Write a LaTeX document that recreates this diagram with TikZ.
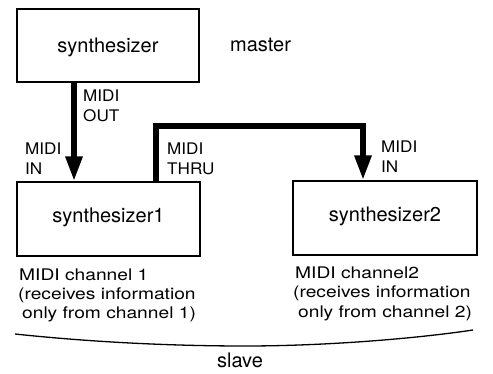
\documentclass[tikz,border=0pt]{standalone}
\usepackage{fontspec}
\setmainfont{TeX Gyre Heros}
\newfontfamily\labfont[FakeStretch=1.07]{TeX Gyre Heros}
\newfontfamily\widefont[FakeStretch=1.2]{TeX Gyre Heros}
\usetikzlibrary{arrows.meta}
\begin{document}
\begin{tikzpicture}[x=1pt,y=-1pt,
  synbox/.style={draw, line width=1.4pt, inner sep=0pt, font=\fontsize{20}{24}\selectfont,
    text height=12pt, text depth=4pt},
  thickline/.style={line width=6pt, line cap=butt, line join=miter},
  tip/.style={-{Triangle[length=25pt,width=16pt]}},
  lab/.style={anchor=base west, inner sep=0pt, font=\labfont\fontsize{16}{20}\selectfont},
  note/.style={anchor=base west, inner sep=0pt, font=\widefont\fontsize{16}{20}\selectfont},
  plain/.style={anchor=base, inner sep=0pt, font=\fontsize{20}{24}\selectfont}]
\useasboundingbox (0,0) rectangle (493,374);

% boxes
\node[synbox, minimum width=182pt, minimum height=73pt, text height=15pt, text depth=1pt] (top) at (108,45.5) {synthesizer};
\node[synbox, minimum width=183pt, minimum height=74pt] (b1) at (108.5,219) {synthesizer1};
\node[synbox, minimum width=184pt, minimum height=74pt] (b2) at (385,218) {synthesizer2};

\node[plain, anchor=base west] (master) at (230,52) {master};

% connectors
\coordinate (x1) at (74,0);
\coordinate (t1) at (156,126);
\coordinate (t2) at (363,126);
\draw[thickline, tip] (top.south -| x1) -- (b1.north -| x1);
\draw[thickline, tip] (b1.north -| t1) -- (t1) -- (t2) -- (b2.north -| t2);

% connector labels
\node[lab] (out1) at (83,101.7) {MIDI};
\node[lab] (out2) at (83,121.7) {OUT};
\node[lab] (in1) at (25,155) {MIDI};
\node[lab] (in2) at (25,175) {IN};
\node[lab] (thru1) at (167,155) {MIDI};
\node[lab] (thru2) at (167,175) {THRU};
\node[lab] (rin1) at (381,153) {MIDI};
\node[lab] (rin2) at (381,173) {IN};

% notes under boxes
\node[note] (c1a) at (19,280) {MIDI channel 1};
\node[note] (c1b) at (18,299.5) {(receives information};
\node[note] (c1c) at (22,319) {only from channel 1)};
\node[note] (c2a) at (295,278.5) {MIDI channel2};
\node[note] (c2b) at (293,298) {(receives information};
\node[note] (c2c) at (298,317.5) {only from channel 2)};

% brace and slave
\coordinate (bl) at (15,334);
\coordinate (br) at (473,330);
\draw[line width=1.3pt] (bl) .. controls (90,342) and (170,346) .. (245,346)
  .. controls (330,346) and (420,338) .. (br);
\node[plain] (slave) at (240,367.5) {slave};
\end{tikzpicture}
\end{document}
